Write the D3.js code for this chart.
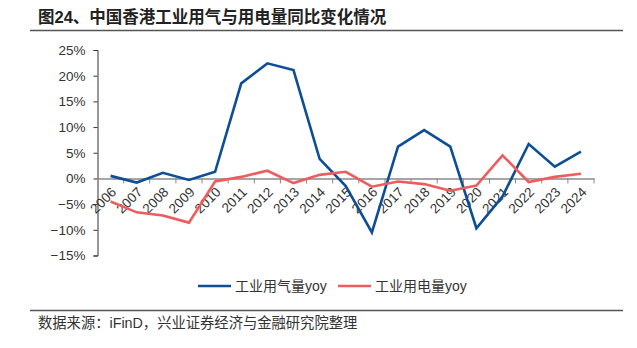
<!DOCTYPE html>
<html><head><meta charset="utf-8">
<script src="https://cdn.jsdelivr.net/npm/d3@7/dist/d3.min.js"></script>
<style>
body{margin:0;background:#fff;}
text{font-family:"Liberation Sans","Noto Sans CJK SC",sans-serif;}
</style></head>
<body><svg id="c" width="637" height="348"></svg>
<script>
const years = ["2006","2007","2008","2009","2010","2011","2012","2013","2014","2015","2016","2017","2018","2019","2020","2021","2022","2023","2024"];
const gasYoy = [0.5,-0.8,1.1,-0.3,1.3,18.5,22.4,21.1,3.8,-1.5,-10.5,6.2,9.4,6.2,-9.7,-3.5,6.7,2.3,5.2];
const elecYoy = [-4.5,-6.6,-7.2,-8.6,-0.6,0.3,1.5,-0.9,0.7,1.3,-1.6,-0.6,-1.1,-2.4,-1.4,4.5,-0.7,0.3,0.9];
const yTicks = [-15,-10,-5,0,5,10,15,20,25];
const seriesNames = ["工业用气量yoy","工业用电量yoy"];
const colors = ["#0D4E97","#EE5C5E"];

const svg = d3.select("#c");
const x = d3.scaleBand().domain(years).range([97.5,594]);
const y = d3.scaleLinear().domain([-15,25]).range([255.5,50]);

// title
svg.append("text").attr("x",38).attr("y",23).attr("font-size",16.5).attr("fill","#222").attr("font-weight","bold")
  .attr("font-family","'Noto Sans CJK SC',sans-serif")
  .text("图24、中国香港工业用气与用电量同比变化情况");
svg.append("line").attr("x1",30).attr("x2",623).attr("y1",30.5).attr("y2",30.5).attr("stroke","#555").attr("stroke-width",1.5);
svg.append("line").attr("x1",30).attr("x2",623).attr("y1",310.5).attr("y2",310.5).attr("stroke","#555").attr("stroke-width",1.5);

// y axis
const ya = svg.append("g").attr("transform","translate(97.5,0)")
  .call(d3.axisLeft(y).tickValues(yTicks).tickSize(4).tickPadding(8).tickFormat(d=>(d<0?"\u2212"+(-d):d)+"%"));
ya.select(".domain").attr("stroke","#333");
ya.selectAll(".tick line").attr("stroke","#333");
ya.selectAll("text").attr("font-size",13.5).attr("fill","#333").attr("font-family","'Liberation Sans',sans-serif");

// x axis
const xa = svg.append("g").attr("transform",`translate(0,${y(0)})`)
  .call(d3.axisBottom(x).tickSize(0).tickPadding(0));
xa.select(".domain").attr("stroke","#888").attr("stroke-width",1.5);
xa.selectAll(".tick line").remove();
xa.selectAll(".tick text").attr("font-size",13.5).attr("fill","#333")
  .attr("text-anchor","end").attr("dy",0).attr("y",0)
  .attr("transform","translate(4,12) rotate(-45)").attr("dominant-baseline","middle");
// band boundary ticks
const bounds = years.map(d=>x(d)).concat([x.range()[1]]);
svg.append("g").selectAll("line").data(bounds.slice(1)).join("line")
  .attr("x1",d=>d).attr("x2",d=>d).attr("y1",y(0)).attr("y2",y(0)+5)
  .attr("stroke","#888").attr("stroke-width",1);

const line = d3.line().x((d,i)=>x(years[i])+x.bandwidth()/2).y(d=>y(d));
[gasYoy,elecYoy].forEach((s,k)=>{
  svg.append("path").datum(s).attr("d",line).attr("fill","none")
    .attr("stroke",colors[k]).attr("stroke-width",2.6).attr("stroke-linejoin","miter");
});

// legend
const lx=[198,338];
seriesNames.forEach((n,k)=>{
  svg.append("line").attr("x1",lx[k]).attr("x2",lx[k]+33).attr("y1",286).attr("y2",286).attr("stroke",colors[k]).attr("stroke-width",2.6);
  svg.append("text").attr("x",lx[k]+37).attr("y",291).attr("font-size",14).attr("fill","#333")
    .attr("font-family","'Noto Sans CJK SC',sans-serif").text(n);
});

svg.append("text").attr("x",38).attr("y",328).attr("font-size",14.3).attr("fill","#333")
  .attr("font-family","'Noto Sans CJK SC',sans-serif").text("数据来源：iFinD，兴业证券经济与金融研究院整理");
</script></body></html>
